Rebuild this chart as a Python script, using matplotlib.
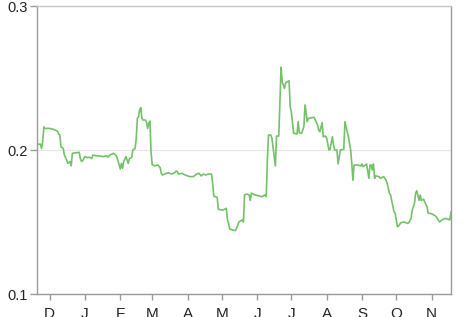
import matplotlib
matplotlib.use("Agg")
import matplotlib.pyplot as plt
import numpy as np
import pandas as pd

start_date = "2012-11-20"
day = [0, 3, 4, 5, 6, 7, 11, 15, 18, 19, 20, 21, 23, 24, 26, 27, 29, 30, 31, 37,
       38, 39, 40, 42, 44, 46, 48, 49, 52, 55, 58, 61, 62, 64, 67, 69, 70, 72, 73, 74,
       75, 76, 78, 79, 80, 81, 83, 84, 86, 87, 88, 89, 90, 91, 92, 93, 95, 96, 97, 98,
       99, 100, 101, 102, 103, 106, 108, 109, 110, 112, 115, 118, 121, 122, 123, 124, 127, 130, 134, 137,
       140, 142, 144, 146, 148, 150, 153, 154, 155, 158, 159, 163, 166, 167, 168, 169, 172, 174, 175, 177,
       180, 181, 182, 184, 186, 187, 188, 191, 194, 197, 200, 201, 202, 203, 205, 206, 208, 209, 210, 212,
       213, 214, 215, 217, 218, 221, 222, 223, 225, 228, 229, 230, 232, 234, 235, 237, 238, 243, 244, 246,
       247, 248, 250, 251, 253, 254, 256, 257, 259, 260, 261, 263, 264, 266, 269, 270, 272, 273, 275, 276,
       277, 278, 281, 284, 285, 286, 288, 289, 291, 292, 293, 294, 295, 296, 297, 300, 301, 304, 306, 307,
       309, 310, 311, 313, 314, 316, 317, 319, 322, 325, 326, 328, 329, 331, 332, 333, 335, 336, 337, 339,
       340, 342, 343, 345, 348, 350, 351, 353, 355, 358, 361, 362, 363]
value = [0.2040, 0.2040, 0.2010, 0.2060, 0.2160, 0.2150, 0.2150, 0.2142, 0.2130, 0.2110,
         0.2105, 0.2023, 0.2010, 0.1965, 0.1930, 0.1907, 0.1920, 0.1890, 0.1977, 0.1984,
         0.1940, 0.1920, 0.1925, 0.1954, 0.1947, 0.1950, 0.1940, 0.1965, 0.1960, 0.1958,
         0.1954, 0.1960, 0.1950, 0.1965, 0.1977, 0.1965, 0.1954, 0.1896, 0.1868, 0.1907,
         0.1873, 0.1919, 0.1954, 0.1930, 0.1907, 0.1940, 0.1947, 0.2000, 0.2010, 0.2080,
         0.2220, 0.2231, 0.2278, 0.2294, 0.2220, 0.2208, 0.2208, 0.2197, 0.2150, 0.2185,
         0.2201, 0.1988, 0.1896, 0.1896, 0.1889, 0.1896, 0.1877, 0.1838, 0.1826, 0.1833,
         0.1842, 0.1833, 0.1844, 0.1854, 0.1850, 0.1833, 0.1838, 0.1826, 0.1815, 0.1815,
         0.1833, 0.1838, 0.1820, 0.1833, 0.1826, 0.1833, 0.1833, 0.1769, 0.1680, 0.1671,
         0.1588, 0.1583, 0.1595, 0.1514, 0.1490, 0.1450, 0.1444, 0.1440, 0.1456, 0.1500,
         0.1514, 0.1500, 0.1688, 0.1694, 0.1688, 0.1650, 0.1700, 0.1688, 0.1683, 0.1676,
         0.1688, 0.1676, 0.1930, 0.2104, 0.2104, 0.2081, 0.1954, 0.1889, 0.2097, 0.2097,
         0.2335, 0.2574, 0.2474, 0.2428, 0.2467, 0.2481, 0.2300, 0.2266, 0.2116, 0.2111,
         0.2197, 0.2120, 0.2116, 0.2162, 0.2313, 0.2197, 0.2220, 0.2227, 0.2208, 0.2174,
         0.2139, 0.2127, 0.2190, 0.2092, 0.2097, 0.2081, 0.2000, 0.2005, 0.2092, 0.2035,
         0.2000, 0.2000, 0.1903, 0.2000, 0.2005, 0.2197, 0.2127, 0.2092, 0.2000, 0.1907,
         0.1790, 0.1896, 0.1896, 0.1889, 0.1903, 0.1884, 0.1896, 0.1903, 0.1803, 0.1896,
         0.1896, 0.1861, 0.1903, 0.1803, 0.1820, 0.1815, 0.1803, 0.1815, 0.1792, 0.1769,
         0.1700, 0.1688, 0.1650, 0.1572, 0.1560, 0.1468, 0.1472, 0.1495, 0.1500, 0.1490,
         0.1495, 0.1525, 0.1583, 0.1630, 0.1700, 0.1717, 0.1650, 0.1688, 0.1650, 0.1658,
         0.1640, 0.1606, 0.1560, 0.1560, 0.1549, 0.1537, 0.1525, 0.1500, 0.1514, 0.1525,
         0.1518, 0.1514, 0.1570]
month_labels = ["D", "J", "F", "M", "A", "M", "J", "J", "A", "S", "O", "N"]
y_ticks = [0.1, 0.2, 0.3]

dates = pd.to_datetime(start_date) + pd.to_timedelta(day, unit="D")

plt.rcParams["font.family"] = ["Liberation Sans", "DejaVu Sans"]
fig = plt.figure(figsize=(4.66, 3.17), dpi=100)
ax = fig.add_axes([37 / 466, 1 - 294 / 317, (451 - 37) / 466, (294 - 6) / 317])

ax.plot(dates, value, color="#74c16a", linewidth=1.2)

ax.set_xlim(dates[0], dates[-1])
ax.set_ylim(0.1, 0.3)
ax.set_yticks(y_ticks)
ax.set_yticklabels([f"{t:.1f}" for t in y_ticks])

month_starts = pd.date_range("2012-12-01", "2013-11-01", freq="MS")
ax.set_xticks(month_starts)
ax.set_xticklabels(month_labels)

ax.yaxis.grid(True, color="#e6e6e6", linewidth=0.8)
ax.set_axisbelow(True)

for side in ["left", "bottom", "right"]:
    ax.spines[side].set_color("#9a9a9a")
    ax.spines[side].set_linewidth(1.0)
ax.spines["top"].set_color("#c8c8c8")
ax.spines["top"].set_linewidth(1.0)

ax.tick_params(axis="y", length=5, width=1, color="#9a9a9a", pad=2,
               labelsize=10.5, labelcolor="#222222")
ax.tick_params(axis="x", length=4, width=1, color="#9a9a9a", pad=5,
               labelsize=11, labelcolor="#222222")

fig.savefig("out.png", dpi=100)
